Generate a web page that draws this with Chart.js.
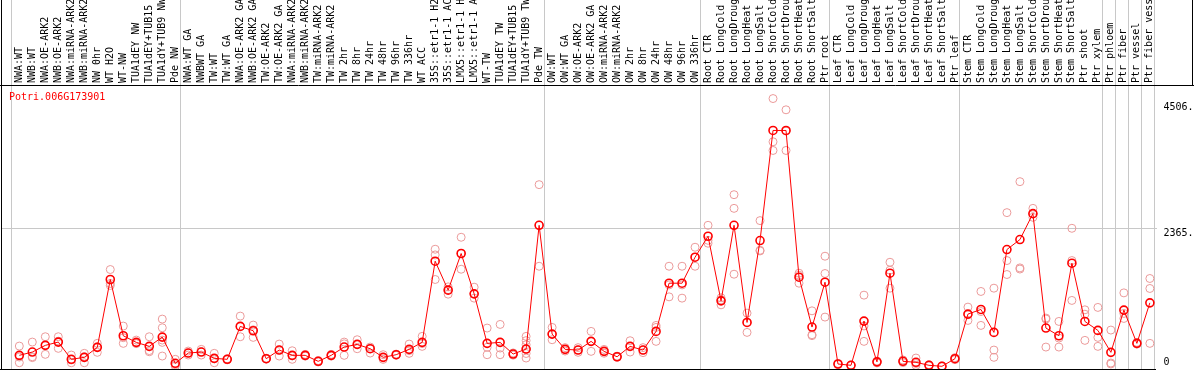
<!DOCTYPE html>
<html>
<head>
<meta charset="utf-8">
<script src="https://cdn.jsdelivr.net/npm/chart.js@4/dist/chart.umd.min.js"></script>
<style>
  html, body { margin: 0; padding: 0; background: #fff; }
  #chart { display: block; }
</style>
</head>
<body>
<canvas id="chart" width="1194" height="370"></canvas>
<script>
// gene shown in the corner
const GENE = "Potri.006G173901";

// -------------------------
// Sample groups (labels are cut at 14 chars, like in the picture)
// -------------------------
const labelsNW = ["NWA:WT", "NWB:WT", "NWA:OE-ARK2", "NWB:OE-ARK2", "NWA:miRNA-ARK2", "NWB:miRNA-ARK2",
  "NW 0hr", "WT H2O", "WT-NW", "TUA1dEY NW", "TUA1dEY+TUB15", "TUA1dY+TUB9 NW", "Pde NW"];
const meanNW = [199, 255, 369, 425, 131, 165, 335, 1492, 533, 420, 352, 510, 63];
const repNW = [[357, 73, 170], [425, 175, 160], [516, 216, 375], [516, 318, 440], [204, 73, 120],
  [233, 73, 175], [403, 250, 345], [1662, 1424, 1390], [698, 403, 500], [459, 403, 400],
  [516, 260, 280], [817, 669, 459, 420, 187], [131, 40, 17]];

const labelsTW = ["NWA:WT GA", "NWBWT GA", "TW:WT", "TW:WT GA", "NWA:OE-ARK2 GA", "NWB:OE-ARK2 GA",
  "TW:OE-ARK2", "TW:OE-ARK2 GA", "NWA:miRNA-ARK2", "NWB:miRNA-ARK2", "TW:miRNA-ARK2", "TW:miRNA-ARK2",
  "TW 2hr", "TW 8hr", "TW 24hr", "TW 48hr", "TW 96hr", "TW 336hr", "WT ACC", "35S::etr1-1 H2",
  "35S::etr1-1 AC", "LMX5::etr1-1 H", "LMX5::etr1-1 A", "WT-TW", "TUA1dEY TW", "TUA1dEY+TUB15",
  "TUA1dY+TUB9 TW", "Pde TW"];
const meanTW = [238, 255, 148, 131, 692, 618, 142, 289, 199, 199, 97, 199, 340, 386, 312, 165, 210,
  301, 420, 1804, 1310, 1935, 1247, 403, 420, 221, 306, 2416];
const repTW = [[272, 238, 204], [301, 260, 204], [233, 140, 73], [140, 131, 122], [868, 692, 516],
  [715, 635, 505], [150, 142, 135], [391, 289, 187], [277, 190, 131], [215, 199, 185], [110, 97, 85],
  [215, 199, 185], [425, 395, 199], [465, 386, 312], [340, 312, 238], [210, 165, 130], [220, 210, 200],
  [391, 280, 233], [522, 400, 352], [2008, 1911, 1492], [1366, 1320, 1242], [2212, 1935, 1667],
  [1361, 1247, 1174], [664, 336, 210], [726, 323, 210], [240, 221, 202], [522, 450, 380, 300, 230, 153],
  [3109, 2420, 1718]];

const labelsOW = ["OW:WT", "OW:WT GA", "OW:OE-ARK2", "OW:OE-ARK2 GA", "OW:miRNA-ARK2", "OW:miRNA-ARK2",
  "OW 2hr", "OW 8hr", "OW 24hr", "OW 48hr", "OW 96hr", "OW 336hr"];
const meanOW = [561, 301, 289, 437, 267, 175, 352, 289, 607, 1429, 1429, 1872];
const repOW = [[675, 561, 465], [330, 301, 272], [330, 289, 250], [607, 437, 267], [300, 267, 235],
  [185, 175, 165], [448, 352, 255], [330, 289, 245], [709, 675, 437], [1718, 1400, 1196],
  [1718, 1400, 1174], [2042, 1872, 1718]];

const labelsRoot = ["Root CTR", "Root LongCold", "Root LongDroug", "Root LongHeat", "Root LongSalt",
  "Root ShortCold", "Root ShortDrou", "Root ShortHeat", "Root ShortSalt", "Ptr root"];
const meanRoot = [2229, 1128, 2416, 760, 2156, 4033, 4033, 1531, 681, 1446];
const repRoot = [[2416, 2160, 2110], [1180, 1145, 1060], [2938, 2705, 1582], [919, 760, 590],
  [2496, 1990, 1979], [4577, 3840, 3692], [4385, 4022, 3692], [1599, 1565, 1429], [958, 550, 535],
  [1889, 1594, 851]];

const labelsLeaf = ["Leaf CTR", "Leaf LongCold", "Leaf LongDroug", "Leaf LongHeat", "Leaf LongSalt",
  "Leaf ShortCold", "Leaf ShortDrou", "Leaf ShortHeat", "Leaf ShortSalt", "Ptr leaf"];
const meanLeaf = [51, 29, 783, 88, 1599, 97, 80, 29, 12, 142];
const repLeaf = [[60, 51, 42], [35, 29, 23], [1225, 700, 437], [100, 88, 70], [1786, 1650, 1344],
  [120, 97, 75], [153, 60, 27], [40, 29, 18], [20, 12, 5], [160, 142, 125]];

const labelsStem = ["Stem CTR", "Stem LongCold", "Stem LongDroug", "Stem LongHeat", "Stem LongSalt",
  "Stem ShortCold", "Stem ShortDrou", "Stem ShortHeat", "Stem ShortSalt", "Ptr shoot", "Ptr xylem"];
const meanStem = [902, 981, 590, 2003, 2173, 2615, 664, 533, 1770, 777, 624];
const repStem = [[1021, 890, 794], [1288, 946, 709], [1344, 289, 165], [2632, 1815, 1577],
  [3160, 1690, 1670], [2705, 2615, 2552], [834, 818, 340], [777, 493, 340], [2365, 1815, 1135],
  [975, 900, 454], [1016, 505, 352]];

// the last Ptr tissues each sit in their own box
const labelsPtr = [["Ptr phloem"], ["Ptr fiber"], ["Ptr vessel"], ["Ptr fiber vess"]];
const meanPtr = [[250], [970], [403], [1094]];
const repPtr = [[[630, 52, 68]], [[1264, 914, 828]], [[420, 403, 390]], [[1509, 1339, 403]]];

// value axis ticks
const yTicks = [0, 2365, 4506];

// -------------------------
// Flatten groups
// -------------------------
const groups = [
  { labels: labelsNW, mean: meanNW, rep: repNW },
  { labels: labelsTW, mean: meanTW, rep: repTW },
  { labels: labelsOW, mean: meanOW, rep: repOW },
  { labels: labelsRoot, mean: meanRoot, rep: repRoot },
  { labels: labelsLeaf, mean: meanLeaf, rep: repLeaf },
  { labels: labelsStem, mean: meanStem, rep: repStem }
];
labelsPtr.forEach((l, i) => groups.push({ labels: l, mean: meanPtr[i], rep: repPtr[i] }));

const allLabels = [], meanPts = [], repPts = [], bounds = [-0.5];
groups.forEach(g => {
  g.labels.forEach((lab, j) => {
    const i = allLabels.length;
    allLabels.push(lab);
    meanPts.push({ x: i, y: g.mean[j] });
    g.rep[j].forEach(v => repPts.push({ x: i, y: v }));
  });
  bounds.push(allLabels.length - 0.5);
});

// -------------------------
// Frame + group separators + gene name
// -------------------------
const frame = {
  id: "frame",
  beforeDatasetsDraw(chart) {
    const { ctx, chartArea: a, scales: { x } } = chart;
    ctx.save();
    ctx.strokeStyle = "#c8c8c8";
    ctx.lineWidth = 1;
    bounds.forEach(b => {
      const px = Math.round(x.getPixelForValue(b)) - 1.5;
      ctx.beginPath(); ctx.moveTo(px, 0); ctx.lineTo(px, a.bottom); ctx.stroke();
    });
    ctx.restore();
  },
  afterDraw(chart) {
    const { ctx, chartArea: a, width, height } = chart;
    const top = Math.round(a.top) + 0.5, bot = Math.round(a.bottom) + 0.5;
    const left = Math.round(a.left) + 0.5;
    ctx.save();
    ctx.strokeStyle = "#000";
    ctx.lineWidth = 1;
    ctx.beginPath();
    ctx.moveTo(left, 0); ctx.lineTo(left, height);
    ctx.moveTo(0, top); ctx.lineTo(width, top);
    ctx.moveTo(0, bot); ctx.lineTo(Math.round(a.right) - 1, bot);
    ctx.moveTo(width - 1.5, 0); ctx.lineTo(width - 1.5, top);
    ctx.stroke();
    ctx.fillStyle = "#ff0000";
    ctx.font = "10px 'DejaVu Sans Mono'";
    ctx.textBaseline = "middle";
    ctx.fillText(GENE, a.left + 8, a.top + 12);
    ctx.restore();
  }
};

Chart.defaults.font.family = "'DejaVu Sans Mono', monospace";
Chart.defaults.font.size = 10;
Chart.defaults.color = "#000";

new Chart(document.getElementById("chart"), {
  type: "scatter",
  data: {
    datasets: [
      {
        label: "mean",
        type: "line",
        data: meanPts,
        borderColor: "#ff0000",
        borderWidth: 1,
        pointRadius: 4,
        pointBorderWidth: 1.6,
        pointBorderColor: "#ff0000",
        pointBackgroundColor: "rgba(255,255,255,0)",
        fill: false,
        tension: 0,
        order: 1
      },
      {
        label: "replicates",
        data: repPts,
        showLine: false,
        pointRadius: 4,
        pointBorderWidth: 1,
        pointBorderColor: "#eb9a9a",
        pointBackgroundColor: "rgba(255,255,255,0)",
        order: 2
      }
    ]
  },
  options: {
    responsive: false,
    animation: false,
    devicePixelRatio: 1,
    layout: { autoPadding: false, padding: { left: 1, bottom: 1 } },
    plugins: { legend: { display: false }, tooltip: { enabled: false } },
    scales: {
      x: {
        type: "linear",
        position: "top",
        min: -1.41,
        max: 87.51,
        afterBuildTicks: s => { s.ticks = allLabels.map((_, i) => ({ value: i })); },
        afterFit: s => { s.paddingLeft = 0; s.paddingRight = 0; s.height = 85; },
        grid: { display: false, drawTicks: false },
        border: { display: false },
        ticks: {
          autoSkip: false,
          minRotation: 90,
          maxRotation: 90,
          padding: 2,
          labelOffset: 12,
          font: { size: 10 },
          callback: (v, i) => allLabels[i]
        }
      },
      y: {
        position: "right",
        min: -34,
        max: 4808,
        afterBuildTicks: s => { s.ticks = yTicks.map(v => ({ value: v })); },
        afterFit: s => { s.paddingTop = 0; s.paddingBottom = 0; s.width = 37.5; },
        border: { display: false },
        grid: {
          drawTicks: false,
          color: c => (c.tick && c.tick.value === 2365) ? "#c8c8c8" : "rgba(0,0,0,0)"
        },
        ticks: {
          padding: 7,
          font: { size: 10, lineHeight: 1 },
          // labels hang under their line, except the bottom one
          callback: v => v === 0 ? ["0", ""] : ["", v + "."]
        }
      }
    }
  },
  plugins: [frame]
});
</script>
</body>
</html>
